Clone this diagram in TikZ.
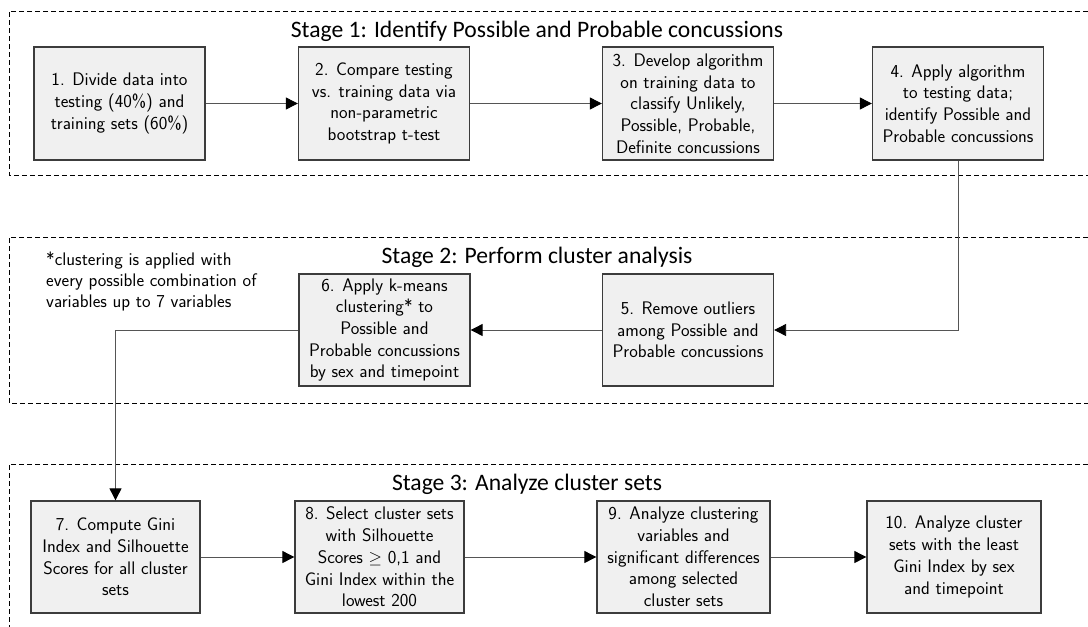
\documentclass[tikz,border=0pt]{standalone}
\usepackage{fontspec}
\newfontfamily\titlefont{Carlito}
\usetikzlibrary{arrows.meta}
\definecolor{boxfill}{HTML}{F0F0F0}
\definecolor{boxline}{HTML}{3C3C3C}
\definecolor{linkgray}{HTML}{555555}
\tikzset{
  stepbox/.style={draw=boxline, fill=boxfill, line width=1.3pt,
    minimum width=171pt, minimum height=113pt, inner sep=0pt, align=center,
    font=\sffamily\fontsize{18.2}{21.7}\selectfont},
  flow/.style={draw=linkgray, line width=0.9pt,
    -{Triangle[length=12pt,width=12pt,color=black]}},
  stageframe/.style={draw=black, line width=0.9pt, dash pattern=on 5pt off 3pt},
  stagetitle/.style={anchor=base, font=\titlefont\fontsize{23.6}{26}\selectfont},
  notetext/.style={anchor=base west, align=left, inner sep=0pt,
    font=\sffamily\fontsize{18.2}{21}\selectfont}
}
\begin{document}
\begin{tikzpicture}[x=1pt,y=-1pt]
  \useasboundingbox (0,0) rectangle (1088,627);

  % stage frames (open to the right)
  \draw[stageframe] (1088,11) -- (9,11) -- (9,175) -- (1088,175);
  \draw[stageframe] (1088,237) -- (9,237) -- (9,403) -- (1088,403);
  \draw[stageframe] (1088,464) -- (9,464) -- (9,627);

  % stage titles
  \node[stagetitle] (t1) at (537,37) {Stage 1: Identify Possible and Probable concussions};
  \node[stagetitle] (t2) at (537,263) {Stage 2: Perform cluster analysis};
  \node[stagetitle] (t3) at (527,490) {Stage 3: Analyze cluster sets};

  % stage 1
  \node[stepbox] (s1) at (119.5,103.5) {1. Divide data into\\testing (40\%) and\\training sets (60\%)};
  \node[stepbox] (s2) at (384,103.5) {2. Compare testing\\vs. training data via\\non-parametric\\bootstrap t-test};
  \node[stepbox] (s3) at (688,103.5) {3. Develop algorithm\\on training data to\\classify Unlikely,\\Possible, Probable,\\Definite concussions};
  \node[stepbox] (s4) at (958,103.5) {4. Apply algorithm\\to testing data;\\identify Possible and\\Probable concussions};

  % stage 2
  \node[stepbox, minimum height=112pt] (s5) at (688,330) {5. Remove outliers\\among Possible and\\Probable concussions};
  \node[stepbox, minimum height=112pt] (s6) at (384.5,330) {6. Apply k-means\\clustering* to\\Possible and\\Probable concussions\\by sex and timepoint};
  \node[notetext] (note) at (46,307) {*clustering is applied with\\every possible combination of\\variables up to 7 variables};

  % stage 3
  \node[stepbox, minimum width=169pt, minimum height=112pt] (s7) at (115.5,557) {7. Compute Gini\\Index and Silhouette\\Scores for all cluster\\sets};
  \node[stepbox, minimum width=169pt, minimum height=112pt] (s8) at (379.5,557) {8. Select cluster sets\\with Silhouette\\Scores $\geq$ 0,1 and\\Gini Index within the\\lowest 200};
  \node[stepbox, minimum width=173pt, minimum height=112pt] (s9) at (683.5,557) {9. Analyze clustering\\variables and\\significant differences\\among selected\\cluster sets};
  \node[stepbox, minimum width=174pt, minimum height=112pt] (s10) at (954,557) {10. Analyze cluster\\sets with the least\\Gini Index by sex\\and timepoint};

  % connectors
  \draw[flow] (s1) -- (s2);
  \draw[flow] (s2) -- (s3);
  \draw[flow] (s3) -- (s4);
  \draw[flow] (s4.south) |- (s5.east);
  \draw[flow] (s5) -- (s6);
  \draw[flow] (s6.west) -| (s7.north);
  \draw[flow] (s7) -- (s8);
  \draw[flow] (s8) -- (s9);
  \draw[flow] (s9) -- (s10);
\end{tikzpicture}
\end{document}
